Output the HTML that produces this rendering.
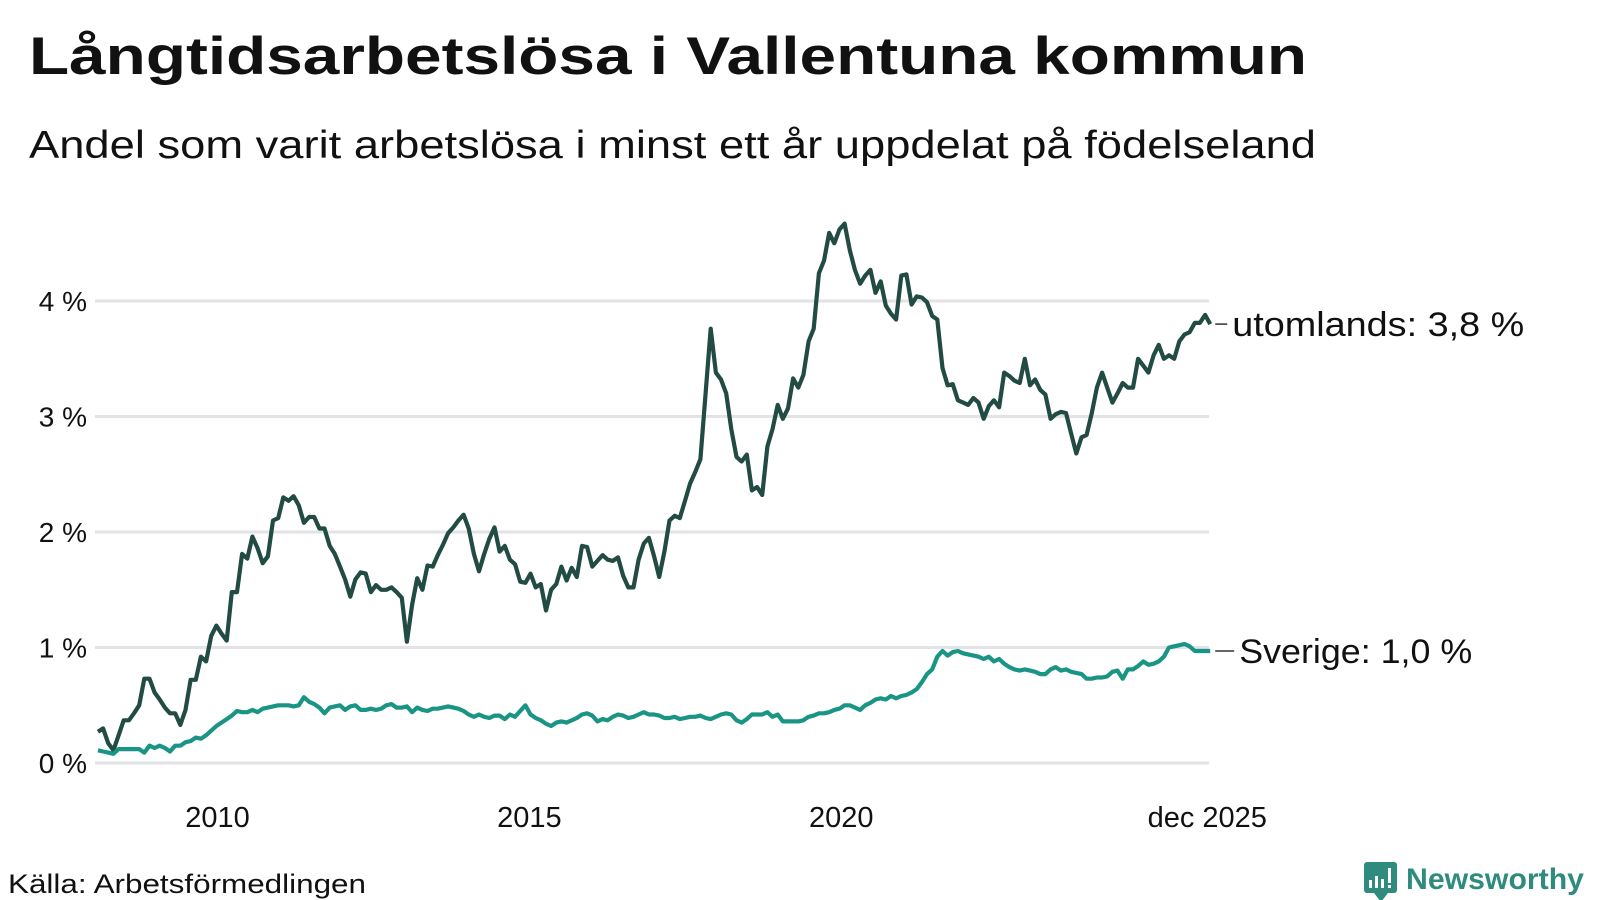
<!DOCTYPE html>
<html><head><meta charset="utf-8"><style>
body{margin:0;background:#fff;width:1600px;height:900px;overflow:hidden;font-family:"Liberation Sans",sans-serif;}
svg{display:block}
</style></head><body>
<svg id="chart" width="1600" height="900">
<text x="29" y="74" font-size="53" font-weight="bold" fill="#111" textLength="1278" lengthAdjust="spacingAndGlyphs">Långtidsarbetslösa i Vallentuna kommun</text>
<text x="29" y="158" font-size="39" fill="#111" textLength="1287" lengthAdjust="spacingAndGlyphs">Andel som varit arbetslösa i minst ett år uppdelat på födelseland</text>
<g id="grid"></g><g id="ylab"></g><g id="xlab"></g><g id="lines"></g><g id="labels"></g>
<text x="8" y="893" font-size="27" fill="#111" textLength="358" lengthAdjust="spacingAndGlyphs">Källa: Arbetsförmedlingen</text>
<g>
<rect x="1364" y="862" width="33" height="31" rx="3" fill="#2e8b7e"/>
<polygon points="1374,893 1388,893 1381,902" fill="#2e8b7e"/>
<rect x="1369" y="880" width="3" height="8" fill="#fff"/><rect x="1375" y="876" width="3" height="12" fill="#fff"/><rect x="1381" y="879" width="3" height="9" fill="#fff"/><rect x="1388" y="868" width="3" height="15" fill="#fff"/><rect x="1388" y="885" width="3" height="3" fill="#fff"/>
<text x="1406" y="889" font-size="30" font-weight="bold" fill="#2e8b7e" textLength="178" lengthAdjust="spacingAndGlyphs">Newsworthy</text>
</g>
</svg>
<script>
const yTicks=[0,1,2,3,4];
const yTickLabels=["0 %","1 %","2 %","3 %","4 %"];
const xTicks=[2010,2015,2020,2025.917];
const xTickLabels=["2010","2015","2020","dec 2025"];
const startYear=2008+1/12, endYear=2025+11/12;
const utomlands=[0.27,0.30,0.17,0.11,0.24,0.37,0.37,0.43,0.50,0.73,0.73,0.61,0.55,0.48,0.43,0.43,0.33,0.46,0.72,0.72,0.92,0.88,1.10,1.19,1.12,1.06,1.48,1.48,1.81,1.77,1.96,1.86,1.73,1.79,2.10,2.12,2.30,2.27,2.31,2.23,2.08,2.13,2.13,2.03,2.03,1.88,1.81,1.70,1.59,1.44,1.59,1.65,1.64,1.48,1.54,1.50,1.50,1.52,1.48,1.43,1.05,1.37,1.60,1.50,1.71,1.70,1.80,1.89,1.99,2.04,2.10,2.15,2.03,1.81,1.66,1.81,1.94,2.04,1.83,1.88,1.76,1.72,1.57,1.56,1.64,1.52,1.55,1.32,1.50,1.55,1.70,1.58,1.69,1.61,1.88,1.87,1.70,1.75,1.80,1.76,1.75,1.78,1.62,1.52,1.52,1.76,1.90,1.95,1.79,1.61,1.83,2.10,2.14,2.12,2.27,2.42,2.52,2.63,3.20,3.76,3.38,3.32,3.20,2.89,2.65,2.61,2.67,2.36,2.39,2.32,2.74,2.89,3.10,2.98,3.07,3.33,3.25,3.36,3.65,3.76,4.24,4.35,4.59,4.50,4.62,4.67,4.44,4.27,4.15,4.22,4.27,4.07,4.17,3.96,3.89,3.84,4.22,4.23,3.97,4.04,4.03,3.99,3.87,3.84,3.42,3.27,3.28,3.14,3.12,3.10,3.16,3.12,2.98,3.09,3.14,3.08,3.38,3.35,3.31,3.29,3.50,3.27,3.32,3.23,3.19,2.98,3.02,3.04,3.03,2.85,2.68,2.82,2.84,3.03,3.25,3.38,3.25,3.12,3.20,3.29,3.25,3.25,3.50,3.44,3.38,3.53,3.62,3.50,3.53,3.50,3.65,3.71,3.73,3.81,3.81,3.88,3.80];
const sverige=[0.11,0.10,0.09,0.08,0.12,0.12,0.12,0.12,0.12,0.09,0.15,0.13,0.15,0.13,0.10,0.15,0.15,0.18,0.19,0.22,0.21,0.24,0.28,0.32,0.35,0.38,0.41,0.45,0.44,0.44,0.46,0.44,0.47,0.48,0.49,0.50,0.50,0.50,0.49,0.50,0.57,0.53,0.51,0.48,0.43,0.48,0.49,0.50,0.46,0.49,0.50,0.46,0.46,0.47,0.46,0.47,0.50,0.51,0.48,0.48,0.49,0.44,0.48,0.46,0.45,0.47,0.47,0.48,0.49,0.48,0.47,0.45,0.42,0.40,0.42,0.40,0.39,0.41,0.41,0.38,0.42,0.40,0.45,0.50,0.42,0.39,0.37,0.34,0.32,0.35,0.36,0.35,0.37,0.39,0.42,0.43,0.41,0.36,0.38,0.37,0.40,0.42,0.41,0.39,0.40,0.42,0.44,0.42,0.42,0.41,0.39,0.39,0.40,0.38,0.39,0.40,0.40,0.41,0.39,0.38,0.40,0.42,0.43,0.42,0.37,0.35,0.38,0.42,0.42,0.42,0.44,0.40,0.42,0.36,0.36,0.36,0.36,0.37,0.40,0.41,0.43,0.43,0.44,0.46,0.47,0.50,0.50,0.48,0.46,0.50,0.52,0.55,0.56,0.55,0.58,0.56,0.58,0.59,0.61,0.64,0.70,0.77,0.81,0.92,0.97,0.93,0.96,0.97,0.95,0.94,0.93,0.92,0.90,0.92,0.88,0.90,0.86,0.83,0.81,0.80,0.81,0.80,0.79,0.77,0.77,0.81,0.83,0.80,0.81,0.79,0.78,0.77,0.73,0.73,0.74,0.74,0.75,0.79,0.80,0.73,0.81,0.81,0.84,0.88,0.85,0.86,0.88,0.92,1.00,1.01,1.02,1.03,1.01,0.97,0.97,0.97,0.97];
const seriesNames=["utomlands: 3,8 %","Sverige: 1,0 %"];

const NS="http://www.w3.org/2000/svg";
const X0=95,X1=1209;
function xScale(yr){return 217.5+(yr-2010)*62.37;}
function yScale(v){return 763-v*115.5;}
function mk(tag,attrs,parent){const e=document.createElementNS(NS,tag);for(const k in attrs)e.setAttribute(k,attrs[k]);parent.appendChild(e);return e;}
const grid=document.getElementById('grid'),ylab=document.getElementById('ylab'),xlab=document.getElementById('xlab'),lines=document.getElementById('lines'),labels=document.getElementById('labels');
yTicks.forEach((t,i)=>{
  const l=mk('line',{x1:X0,x2:X1,y1:yScale(t),y2:yScale(t),stroke:'#e2e2e7','stroke-width':3},grid);
  
  
  const tx=mk('text',{x:87,y:yScale(t)+10,'font-size':28,'text-anchor':'end',fill:'#111'},ylab);
  tx.textContent=yTickLabels[i];
  
  
});
xTicks.forEach((t,i)=>{
  const tx=mk('text',{x:xScale(t)-(i==3?3:0),y:827,'font-size':29,'text-anchor':'middle',fill:'#111'},xlab);
  tx.textContent=xTickLabels[i];
  
  
});
function pathFor(arr){
  const n=arr.length;let d='';
  arr.forEach((v,i)=>{const yr=startYear+(endYear-startYear)*i/(n-1);d+=(i?'L':'M')+xScale(yr).toFixed(1)+','+yScale(v).toFixed(1);});
  return d;
}
const p1=mk('path',{d:pathFor(utomlands),fill:'none',stroke:'#224b43','stroke-width':4.2,'stroke-linejoin':'round'},lines);


const p2=mk('path',{d:pathFor(sverige),fill:'none',stroke:'#1a9585','stroke-width':4.2,'stroke-linejoin':'round'},lines);


[[utomlands,0],[sverige,1]].forEach(([arr,i])=>{
  const last=arr[arr.length-1];const ly=yScale(last);const ex=xScale(endYear);
  const ld=mk('line',{x1:ex+5,x2:ex+(i==0?17:24),y1:ly,y2:ly,stroke:'#333','stroke-width':1.5},labels);
  
  
  const tx=mk('text',{x:ex+(i==0?22:29),y:ly+12,'font-size':34,fill:'#111','textLength':(i==0?292:233),'lengthAdjust':'spacingAndGlyphs'},labels);
  tx.textContent=seriesNames[i];
  
  
});
</script>
</body></html>
